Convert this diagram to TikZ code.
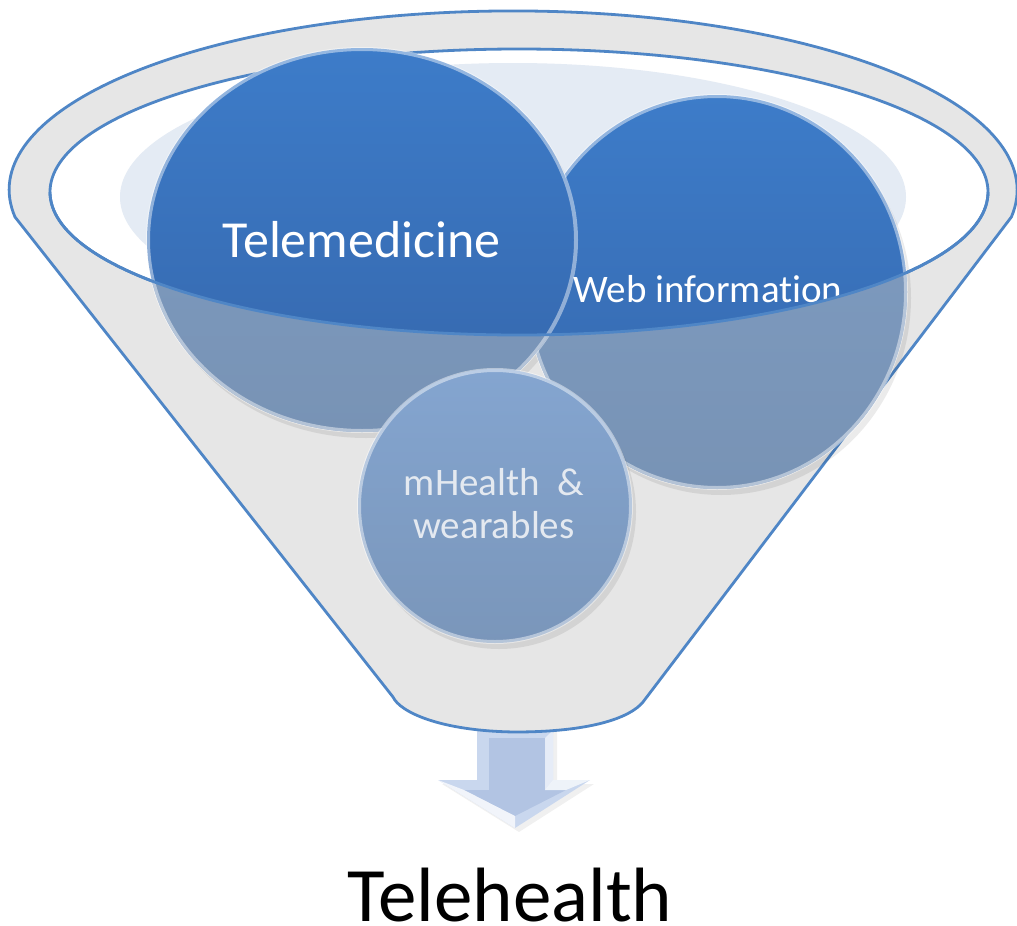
\documentclass[tikz,border=0pt]{standalone}
\usepackage{fontspec}
\setmainfont{Carlito}[Ligatures={NoCommon}]
\definecolor{funnelgray}{HTML}{E6E6E6}
\definecolor{rimblue}{HTML}{4F86C6}
\definecolor{backblue}{HTML}{E4EBF4}
\definecolor{vivtop}{HTML}{3D7CC9}
\definecolor{vivbot}{HTML}{3566AB}
\definecolor{mutetop}{HTML}{7F9DC3}
\definecolor{mutebot}{HTML}{7893B5}
\definecolor{mhtop}{HTML}{84A5D0}
\definecolor{mhbot}{HTML}{7A96BA}
\definecolor{arrowfill}{HTML}{B2C4E3}
\definecolor{arrowlight}{HTML}{C9D7EE}
\definecolor{mhtext}{HTML}{E4E9F0}
\begin{document}
\begin{tikzpicture}[x=0.5pt,y=-0.5pt,
  rimline/.style={draw=rimblue,line width=1.4},
  vivid/.style={top color=vivtop,bottom color=vivbot},
  muted/.style={top color=mutetop,bottom color=mutebot},
  rimglow/.style={draw=white,draw opacity=0.45,line width=2},
  shade/.style={fill=black,fill opacity=0.08},
  whitelabel/.style={text=white,anchor=base,inner sep=0pt},
  mhlabel/.style={text=mhtext,anchor=base,inner sep=0pt}]
\useasboundingbox (0,0) rectangle (1017,926);

% arrow below the funnel
\fill[black,opacity=0.06] (481,729) -- (557,729) -- (557,784) -- (594,784) -- (519,832) -- (442,784) -- (481,784) -- cycle;
\fill[arrowlight] (477,725) -- (553,725) -- (553,780) -- (590,780) -- (515,828) -- (438,780) -- (477,780) -- cycle;
\fill[arrowfill] (489,738) -- (545,738) -- (545,790) -- (566,790) -- (515,816) -- (464,790) -- (489,790) -- cycle;
\fill[white,opacity=0.55] (545,738) -- (553,730) -- (553,780) -- (545,790) -- cycle;
\fill[white,opacity=0.7] (553,780) -- (590,780) -- (566,790) -- (545,790) -- cycle;
\fill[white,opacity=0.75] (438,780) -- (464,790) -- (515,816) -- (515,828) -- cycle;

% funnel body
\path[fill=funnelgray,rimline] (15,217) arc[start angle=171.3,end angle=368.7,x radius=504,y radius=179]
  -- (643,702) .. controls (630,718) and (590,732) .. (515,732)
  .. controls (440,731) and (400,712) .. (393,697) -- cycle;

% inner opening
\fill[white] (519,192) ellipse[x radius=469,y radius=143];
\begin{scope}
  \clip (519,192) ellipse[x radius=469,y radius=143];
  \fill[backblue] (513,197) ellipse[x radius=393,y radius=134];
\end{scope}
\draw[rimline] (519,192) ellipse[x radius=469,y radius=143];

% shadows
\fill[shade] (721,298) ellipse[x radius=190,y radius=197];
\fill[shade] (366,246) ellipse[x radius=215,y radius=192];

% Web information circle
\path[vivid] (717,292) ellipse[x radius=190,y radius=197];
\node[whitelabel,font=\fontsize{19.5}{23}\selectfont] (web) at (708,302) {Web information};
\begin{scope}
  \clip (50,192) arc[start angle=180,end angle=0,x radius=469,y radius=143] -- (1100,192) -- (1100,1000) -- (-100,1000) -- (-100,192) -- cycle;
  \path[muted] (717,292) ellipse[x radius=190,y radius=197];
\end{scope}
\draw[rimglow] (717,292) ellipse[x radius=189,y radius=196];

% Telemedicine circle
\path[vivid] (362,240) ellipse[x radius=215,y radius=192];
\node[whitelabel,font=\fontsize{26}{30}\selectfont] (tele) at (361.5,257) {Telemedicine};
\begin{scope}
  \clip (50,192) arc[start angle=180,end angle=0,x radius=469,y radius=143] -- (1100,192) -- (1100,1000) -- (-100,1000) -- (-100,192) -- cycle;
  \path[muted] (362,240) ellipse[x radius=215,y radius=192];
\end{scope}
\draw[rimglow] (362,240) ellipse[x radius=214,y radius=191];

% front edge of the rim
\draw[rimline] (50,192) arc[start angle=180,end angle=0,x radius=469,y radius=143];

% mHealth circle
\fill[shade] (499,512) circle[radius=137];
\path[top color=mhtop,bottom color=mhbot] (495,506) circle[radius=137];
\draw[rimglow] (495,506) circle[radius=136];
\node[mhlabel,font=\fontsize{19.5}{23}\selectfont] (mh1) at (494,495) {mHealth\ \ \&};
\node[mhlabel,font=\fontsize{19.5}{23}\selectfont] (mh2) at (494,538) {wearables};

% result label
\node[anchor=base,inner sep=0pt,font=\fontsize{38.5}{44}\selectfont] (health) at (510,921) {Telehealth};
\end{tikzpicture}
\end{document}
